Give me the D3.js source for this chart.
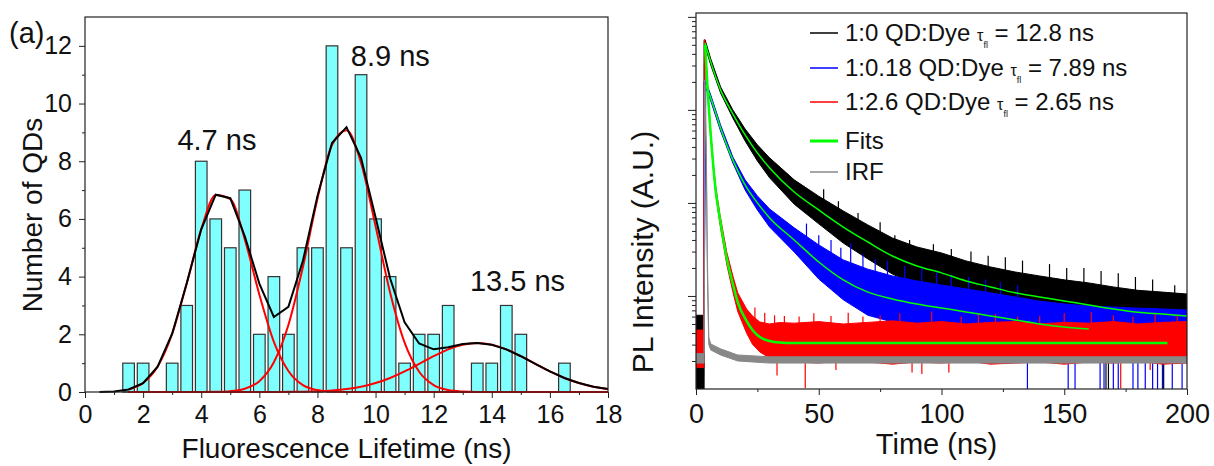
<!DOCTYPE html>
<html>
<head>
<meta charset="utf-8">
<script src="https://cdn.jsdelivr.net/npm/d3@7"></script>
<style>
  body { margin: 0; background: #fff; }
  svg { display: block; font-family: "Liberation Sans", Arial, sans-serif; }
  .axis path { display: none; }
  .axis line { stroke: #222; }
</style>
</head>
<body>
<div id="viz"></div>
<script>
// ---- histogram (panel a) ----
var binCenters = [1.5, 2.0, 3.0, 3.5, 4.0, 4.5, 5.0, 5.5, 6.0, 6.5, 7.0, 7.5, 8.0, 8.5, 9.0, 9.5, 10.0, 10.5, 11.0, 11.5, 12.0, 12.5, 13.5, 14.0, 14.5, 15.0, 16.5];
var binCounts  = [1, 1, 1, 3, 8, 6, 5, 7, 2, 4, 2, 5, 5, 12, 5, 11, 6, 4, 1, 2, 2, 3, 1, 1, 3, 2, 1];

// gaussian fit curves read on a 0.5 ns grid
var fitGrid = [0.5, 1.0, 1.5, 2.0, 2.5, 3.0, 3.5, 4.0, 4.5, 5.0, 5.5, 6.0, 6.5, 7.0, 7.5, 8.0, 8.5, 9.0,
               9.5, 10.0, 10.5, 11.0, 11.5, 12.0, 12.5, 13.0, 13.5, 14.0, 14.5, 15.0, 15.5, 16.0, 16.5, 17.0, 17.5, 18.0];
var fitTotal = [0.004, 0.02, 0.087, 0.31, 0.88, 2.02, 3.76, 5.64, 6.84, 6.72, 5.40, 3.76, 2.6, 2.95, 4.55, 6.79, 8.63, 9.18,
                8.12, 6.06, 3.94, 2.42, 1.68, 1.48, 1.55, 1.66, 1.70, 1.64, 1.48, 1.24, 0.975, 0.714, 0.487, 0.31, 0.184, 0.102];
var fitPeak1 = [0.004, 0.02, 0.087, 0.31, 0.88, 2.02, 3.76, 5.64, 6.83, 6.69, 5.29, 3.38, 1.74, 0.73, 0.24, 0.066, 0.014, 0.003,
                0, 0, 0, 0, 0, 0, 0, 0, 0, 0, 0, 0, 0, 0, 0, 0, 0, 0];
var fitPeak2 = [0, 0, 0, 0, 0, 0, 0, 0.001, 0.006, 0.029, 0.114, 0.376, 1.03, 2.32, 4.33, 6.70, 8.56, 9.07,
                7.94, 5.75, 3.45, 1.71, 0.70, 0.24, 0.067, 0.016, 0, 0, 0, 0, 0, 0, 0, 0, 0, 0];
var fitPeak3 = [0, 0, 0, 0, 0, 0, 0, 0, 0, 0, 0, 0, 0.002, 0.005, 0.012, 0.026, 0.053, 0.102,
                0.184, 0.31, 0.487, 0.714, 0.975, 1.24, 1.48, 1.64, 1.70, 1.64, 1.48, 1.24, 0.975, 0.714, 0.487, 0.31, 0.184, 0.102];
var peakLabels = [{x: 3.18, y: 8.4, t: "4.7 ns"}, {x: 9.15, y: 11.3, t: "8.9 ns"}, {x: 13.25, y: 3.5, t: "13.5 ns"}];

// ---- decay traces (panel b), counts on log axis ----
var blackT  = [0, 3.2, 3.3, 3.7, 6, 10, 15, 20, 25, 30, 40, 50, 60, 70, 80, 90, 100, 110, 120, 130, 140, 150, 160, 170, 180, 190, 200];
var blackHi = [6.2, 6.2, 5600, 5670, 3540, 1770, 1000, 624, 421, 305, 177, 118, 82, 58, 42, 33.6, 29, 23.8, 20.5, 18.1, 16.4, 14.9, 13.8, 12.5, 11.5, 11.0, 10.5];
var blackLo = [1, 1, 1, 4860, 3040, 1520, 820, 464, 283, 186, 97, 59.6, 37, 25, 17.2, 13.1, 10.8, 8.8, 7.6, 6.4, 5.8, 5.26, 4.65, 4.2, 3.9, 3.7, 3.55];
var blackFitT = [3.7, 6, 10, 15, 20, 25, 30, 40, 50, 60, 70, 80, 90, 100, 110, 120, 130, 140, 150, 160, 170, 180, 190, 200];
var blackFit  = [5250, 3281, 1641, 906, 538, 345, 238, 131, 84, 55, 38, 26.9, 21.0, 17.7, 14.5, 12.5, 10.8, 9.75, 8.84, 8.0, 7.25, 6.7, 6.4, 6.1];

var blueT  = [3.3, 4, 6, 10, 15, 20, 25, 30, 40, 50, 60, 70, 80, 90, 100, 110, 120, 130, 140, 150, 160, 170, 180, 190, 200];
var blueHi = [2000, 2000, 1450, 690, 312, 177, 119, 86, 54, 35.4, 24.4, 19.4, 16.4, 14.5, 13.1, 11.9, 10.8, 9.75, 8.8, 8.2, 7.8, 7.6, 7.4, 7.25, 7.07];
var blueLo = [6, 1725, 1250, 594, 269, 138, 84, 55, 29.7, 15.2, 9.1, 6.2, 5.26, 4.64, 4.2, 3.8, 3.45, 3.12, 2.83, 2.63, 2.5, 2.43, 2.38, 2.32, 2.26];
var blueFitT = [4, 6, 10, 15, 20, 25, 30, 40, 50, 60, 70, 80, 90, 100, 110, 120, 130, 140, 150, 160];
var blueFit  = [1858, 1346, 640, 290, 156, 100, 69, 40, 23.2, 14.9, 11.0, 9.29, 8.2, 7.43, 6.73, 6.1, 5.52, 5.0, 4.64, 4.42];

var redT  = [0.3, 3.2, 3.4, 3.7, 5, 6, 7, 8, 9.8, 12.5, 15, 17, 20.6, 23, 26, 30, 34, 40, 50, 60, 70, 80, 90, 100, 110, 120, 130, 140, 150, 160, 170, 180, 190, 200];
var redHi = [4.3, 4.3, 5700, 5390, 1380, 580, 276, 152, 74, 29.8, 16.5, 10.8, 7.25, 6.1, 5.25, 5.0, 5.18, 5.1, 5.3, 5.0, 5.2, 5.4, 5.1, 5.3, 5.0, 5.2, 5.3, 5.0, 5.2, 5.1, 5.3, 5.0, 5.2, 5.3];
var redLo = [1.7, 1.7, 3000, 4640, 1190, 500, 238, 125, 58, 22, 11.1, 6.8, 4.0, 3.03, 2.5, 2.15, 2.0, 1.95, 1.9, 2.0, 1.95, 1.85, 1.95, 1.9, 2.0, 1.85, 1.9, 1.95, 1.85, 1.95, 1.9, 2.0, 1.85, 1.9];
var redFitT = [3.7, 5, 6, 7, 8, 9.8, 12.5, 15, 17, 20.6, 23, 26, 30, 34, 40, 192];
var redFit  = [5000, 1281, 538, 256, 138, 65.7, 25.6, 13.5, 8.6, 5.39, 4.31, 3.62, 3.28, 3.16, 3.12, 3.12];

var irfT  = [0, 3.3, 3.6, 4.2, 4.6, 5.2, 6, 10, 17, 30, 200];
var irfHi = [2.4, 2.4, 2100, 400, 30, 3.6, 3.05, 2.7, 2.32, 2.22, 2.22];
var irfLo = [1.9, 1.9, 1800, 300, 20, 3.0, 2.63, 2.32, 2.0, 1.9, 1.9];

// single noisy points sticking out of the bands
var blueDrops  = [[135, 1], [151.6, 1], [154.4, 1], [164.6, 1], [166.2, 1], [170, 1], [172, 1], [178, 1], [180, 1], [183, 1], [186, 1], [188, 1], [190, 1], [194, 1], [198, 1]];
var blackDrops = [[167, 1], [168, 1], [190.5, 1]];
var blackUps   = [[52, 140], [58, 104], [66, 78], [75, 62], [81, 45], [87, 40], [96.7, 36], [104, 32], [112, 30], [119, 27], [126, 26], [133, 24], [144, 22], [151, 20], [158, 20], [165, 18.5], [172, 17.5], [179, 16], [186, 15], [195, 13]];
var blueUps    = [[45, 60], [50, 45], [55, 40], [59, 33], [63, 37], [68, 28], [73, 25], [78, 24], [85, 21], [92, 20], [98, 18], [104, 17], [111, 16], [118, 15], [124, 14], [131, 13]];
var redDrops   = [[33, 1.4], [44.5, 1.02], [57, 1.6], [88, 1.5], [92, 1.45], [103, 1.5], [173, 1.02], [185, 1.6]];
var redUps     = [[24, 7.5], [28, 6.6], [32, 6.2], [36, 6.1], [42, 6.0], [48, 6.5], [55, 6.1], [62, 6.6], [68, 6.0], [75, 6.2], [83, 6.5], [96, 6.8], [108, 6.0], [115, 6.5], [122, 6.4], [131, 6.0], [140, 6.1], [150, 6.5], [161, 6.7], [170, 6.2], [178, 6.0], [187, 6.4], [196, 6.3]];

var legendItems = [
    {color: "#000", w: 1.5, pre: "1:0 QD:Dye ", post: " = 12.8 ns"},
    {color: "#0000ff", w: 1.5, pre: "1:0.18 QD:Dye ", post: " = 7.89 ns"},
    {color: "#ff0000", w: 1.5, pre: "1:2.6 QD:Dye ", post: " = 2.65 ns"},
    {color: "#00ff00", w: 3, pre: "Fits"},
    {color: "#888", w: 1.5, pre: "IRF"}
];

var width = 1214, height = 466;
var svg = d3.select("#viz").append("svg")
    .attr("width", width)
    .attr("height", height);

// ================= panel (a) =================
var xH = d3.scaleLinear().domain([0, 18]).range([85, 608]);
var yH = d3.scaleLinear().domain([0, 13]).range([392, 17]);

var gA = svg.append("g");

gA.append("g").selectAll("rect")
    .data(binCenters)
    .enter().append("rect")
    .attr("x", function(d) { return xH(d - 0.2); })
    .attr("width", xH(0.4) - xH(0))
    .attr("y", function(d, i) { return yH(binCounts[i]); })
    .attr("height", function(d, i) { return yH(0) - yH(binCounts[i]); })
    .attr("fill", "#80ffff")
    .attr("stroke", "#333")
    .attr("stroke-width", 1.2);

var fitPts = function(arr, from) {
    return fitGrid.map(function(x, i) { return [x, arr[i]]; })
        .filter(function(p) { return p[0] >= from; });
};
var lineH = d3.line().x(function(d) { return xH(d[0]); }).y(function(d) { return yH(d[1]); });
var lineHs = d3.line().curve(d3.curveMonotoneX).x(function(d) { return xH(d[0]); }).y(function(d) { return yH(d[1]); });

[fitPeak1, fitPeak2, fitPeak3].forEach(function(arr) {
    gA.append("path").attr("d", lineHs(fitPts(arr, 1.5)))
        .attr("fill", "none").attr("stroke", "#ff0000").attr("stroke-width", 2);
});
gA.append("path").attr("d", lineH(fitPts(fitTotal, 0.5)))
    .attr("fill", "none").attr("stroke", "#000").attr("stroke-width", 2);

// frame and axes
gA.append("rect").attr("x", xH(0)).attr("y", yH(13))
    .attr("width", xH(18) - xH(0)).attr("height", yH(0) - yH(13))
    .attr("fill", "none").attr("stroke", "#222").attr("stroke-width", 1.2);

gA.append("g").attr("class", "axis").attr("transform", "translate(0," + yH(0) + ")")
    .call(d3.axisBottom(xH).tickValues(d3.range(0, 19, 2)).tickSize(6).tickPadding(7))
    .call(function(g) { g.selectAll("text").attr("font-size", 25).attr("fill", "#111").attr("font-family", null); });
gA.append("g").attr("class", "axis").attr("transform", "translate(0," + yH(0) + ")")
    .call(d3.axisBottom(xH).tickValues(d3.range(1, 18, 2)).tickSize(3).tickFormat(""));
gA.append("g").attr("class", "axis").attr("transform", "translate(" + xH(0) + ",0)")
    .call(d3.axisLeft(yH).tickValues(d3.range(0, 13, 2)).tickSize(6).tickPadding(7))
    .call(function(g) { g.selectAll("text").attr("font-size", 25).attr("fill", "#111").attr("font-family", null); });
gA.append("g").attr("class", "axis").attr("transform", "translate(" + xH(0) + ",0)")
    .call(d3.axisLeft(yH).tickValues(d3.range(1, 13, 2)).tickSize(3).tickFormat(""));

gA.selectAll("text.peak")
    .data(peakLabels)
    .enter().append("text")
    .attr("class", "peak")
    .attr("x", function(d) { return xH(d.x); })
    .attr("y", function(d) { return yH(d.y); })
    .attr("font-size", 29)
    .attr("fill", "#111")
    .text(function(d) { return d.t; });

gA.append("text").attr("x", 9).attr("y", 43).attr("font-size", 29).attr("fill", "#111").text("(a)");

gA.append("text")
    .attr("x", (xH(0) + xH(18)) / 2).attr("y", 458)
    .attr("text-anchor", "middle").attr("font-size", 28).attr("fill", "#111")
    .text("Fluorescence Lifetime (ns)");
gA.append("text")
    .attr("transform", "translate(42," + 215 + ") rotate(-90)")
    .attr("text-anchor", "middle").attr("font-size", 28).attr("fill", "#111")
    .text("Number of QDs");

// ================= panel (b) =================
var xT = d3.scaleLinear().domain([0, 200]).range([696, 1187]);
var yT = d3.scaleLog().domain([1, 11000]).range([389, 13]);

var gB = svg.append("g");
svg.append("defs").append("clipPath").attr("id", "clipB")
    .append("rect").attr("x", xT(0)).attr("y", yT(11000))
    .attr("width", xT(200) - xT(0)).attr("height", yT(1) - yT(11000));

var plotB = gB.append("g").attr("clip-path", "url(#clipB)");

var band = d3.area()
    .x(function(d) { return xT(d[0]); })
    .y0(function(d) { return yT(d[1]); })
    .y1(function(d) { return yT(d[2]); });
var zipBand = function(t, lo, hi) { return t.map(function(v, i) { return [v, lo[i], hi[i]]; }); };

var traces = [
    {t: blackT, lo: blackLo, hi: blackHi, color: "#000"},
    {t: blueT, lo: blueLo, hi: blueHi, color: "#0000ff"},
    {t: redT, lo: redLo, hi: redHi, color: "#ff0000"}
];
var spikeSets = [
    {pts: blackUps, base: [blackFitT, blackFit], color: "#000"},
    {pts: blackDrops, base: [blackFitT, blackFit], color: "#000"},
    {pts: blueUps, base: [blueFitT, blueFit], color: "#0000ff"},
    {pts: blueDrops, base: [blueFitT, blueFit], color: "#0000ff"},
    {pts: redUps, base: [redFitT, redFit], color: "#ff0000"},
    {pts: redDrops, base: [redFitT, redFit], color: "#ff0000"}
];

// value of a fitted curve at time t (for spike roots)
function baseAt(base, t) {
    var ts = base[0], vs = base[1];
    if (t >= ts[ts.length - 1]) return vs[vs.length - 1];
    var i = d3.bisectRight(ts, t);
    var f = (t - ts[i - 1]) / (ts[i] - ts[i - 1]);
    return Math.exp(Math.log(vs[i - 1]) * (1 - f) + Math.log(vs[i]) * f);
}

traces.forEach(function(tr) {
    plotB.append("path")
        .attr("d", band(zipBand(tr.t, tr.lo, tr.hi)))
        .attr("fill", tr.color).attr("stroke", tr.color).attr("stroke-width", 1);
    spikeSets.filter(function(s) { return s.color === tr.color; }).forEach(function(s) {
        plotB.append("g").selectAll("line")
            .data(s.pts)
            .enter().append("line")
            .attr("x1", function(d) { return xT(d[0]); })
            .attr("x2", function(d) { return xT(d[0]); })
            .attr("y1", function(d) { return yT(baseAt(s.base, d[0])); })
            .attr("y2", function(d) { return yT(d[1]); })
            .attr("stroke", s.color).attr("stroke-width", 1.2);
    });
});

plotB.append("path")
    .attr("d", band(zipBand(irfT, irfLo, irfHi)))
    .attr("fill", "#888").attr("stroke", "#888").attr("stroke-width", 1);

var lineT = d3.line().curve(d3.curveMonotoneX)
    .x(function(d) { return xT(d[0]); }).y(function(d) { return yT(d[1]); });
var zip = function(t, v) { return t.map(function(x, i) { return [x, v[i]]; }); };
plotB.append("path").attr("d", lineT(zip(blackFitT, blackFit)))
    .attr("fill", "none").attr("stroke", "#00ff00").attr("stroke-width", 1.5);
plotB.append("path").attr("d", lineT(zip(blueFitT, blueFit)))
    .attr("fill", "none").attr("stroke", "#00ff00").attr("stroke-width", 1.5);
plotB.append("path").attr("d", lineT(zip(redFitT, redFit)))
    .attr("fill", "none").attr("stroke", "#00ff00").attr("stroke-width", 2.5);

// frame and axes
gB.append("rect").attr("x", xT(0)).attr("y", yT(11000))
    .attr("width", xT(200) - xT(0)).attr("height", yT(1) - yT(11000))
    .attr("fill", "none").attr("stroke", "#222").attr("stroke-width", 1.2);

gB.append("g").attr("class", "axis").attr("transform", "translate(0," + yT(1) + ")")
    .call(d3.axisBottom(xT).tickValues(d3.range(0, 201, 50)).tickSize(6).tickPadding(9))
    .call(function(g) { g.selectAll("text").attr("font-size", 27).attr("fill", "#111").attr("font-family", null); });
gB.append("g").attr("class", "axis").attr("transform", "translate(0," + yT(1) + ")")
    .call(d3.axisBottom(xT).tickValues(d3.range(25, 200, 50)).tickSize(3).tickFormat(""));

var logTicks = yT.ticks().filter(function(v) { return v > 1 && v <= 11000; });
var isDecade = function(v) { return Math.abs(Math.log10(v) - Math.round(Math.log10(v))) < 1e-6; };
gB.append("g").attr("class", "axis").attr("transform", "translate(" + xT(0) + ",0)")
    .call(d3.axisLeft(yT).tickValues(logTicks.filter(isDecade)).tickSize(8).tickFormat(""));
gB.append("g").attr("class", "axis").attr("transform", "translate(" + xT(0) + ",0)")
    .call(d3.axisLeft(yT).tickValues(logTicks.filter(function(v) { return !isDecade(v); })).tickSize(4).tickFormat(""));

gB.append("text")
    .attr("x", (xT(0) + xT(200)) / 2 - 5).attr("y", 454)
    .attr("text-anchor", "middle").attr("font-size", 29).attr("fill", "#111")
    .text("Time (ns)");
gB.append("text")
    .attr("transform", "translate(653," + 252 + ") rotate(-90)")
    .attr("text-anchor", "middle").attr("font-size", 30).attr("fill", "#111")
    .text("PL Intensity (A.U.)");

// legend
var legendY = [33, 68, 102, 141, 172];
var leg = gB.append("g").selectAll("g")
    .data(legendItems)
    .enter().append("g")
    .attr("transform", function(d, i) { return "translate(0," + legendY[i] + ")"; });
leg.append("line")
    .attr("x1", 810).attr("x2", 838).attr("y1", 0).attr("y2", 0)
    .attr("stroke", function(d) { return d.color; })
    .attr("stroke-width", function(d) { return d.w; });
var lt = leg.append("text")
    .attr("x", 845).attr("y", 8)
    .attr("font-size", 24).attr("fill", "#111");
lt.append("tspan").text(function(d) { return d.pre; });
lt.filter(function(d) { return d.post; }).append("tspan").attr("font-size", 16).text("τ");
lt.filter(function(d) { return d.post; }).append("tspan").attr("font-size", 9).attr("dy", 7).text("fl");
lt.filter(function(d) { return d.post; }).append("tspan").attr("dy", -7).text(function(d) { return d.post; });
</script>
</body>
</html>
